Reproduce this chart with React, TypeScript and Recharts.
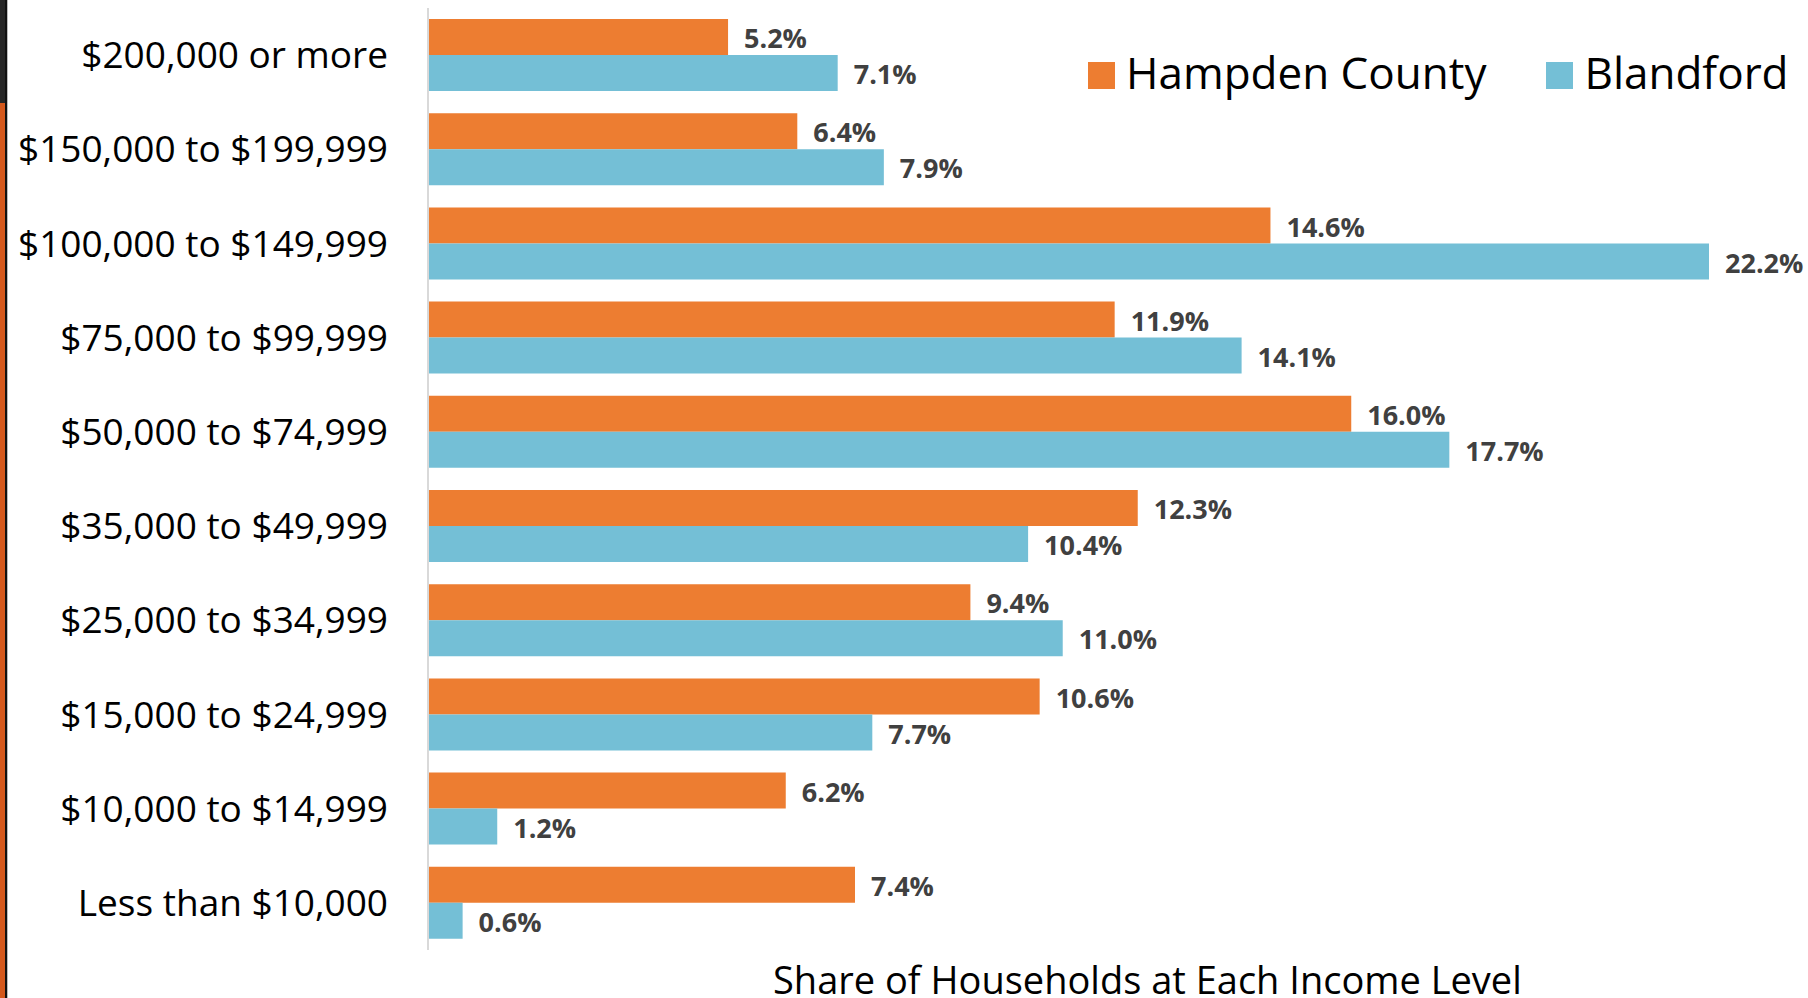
import { BarChart, Bar, XAxis, YAxis, LabelList } from 'recharts'

const incomeLevels = [
  '$200,000 or more',
  '$150,000 to $199,999',
  '$100,000 to $149,999',
  '$75,000 to $99,999',
  '$50,000 to $74,999',
  '$35,000 to $49,999',
  '$25,000 to $34,999',
  '$15,000 to $24,999',
  '$10,000 to $14,999',
  'Less than $10,000',
]
const hampdenCounty = [5.2, 6.4, 14.6, 11.9, 16.0, 12.3, 9.4, 10.6, 6.2, 7.4]
const blandford = [7.1, 7.9, 22.2, 14.1, 17.7, 10.4, 11.0, 7.7, 1.2, 0.6]

const ORANGE = '#ED7D31'
const BLUE = '#74BFD6'
const FONT = '"Open Sans", "Noto Sans", sans-serif'

const data = incomeLevels.map((level, i) => ({
  level,
  hampden: hampdenCounty[i],
  blandford: blandford[i],
}))

// value label to the right of each bar, sitting a little below the bar middle like the original
function ValueLabel(props: any) {
  const { x, y, width, height, value } = props
  return (
    <text
      x={Number(x) + Number(width) + 16}
      y={Number(y) + Number(height) / 2 + 4}
      dominantBaseline="middle"
      fontSize={27}
      fontWeight={700}
      fill="#404040"
      fontFamily={FONT}
    >
      {`${Number(value).toFixed(1)}%`}
    </text>
  )
}

// legend drawn outside the chart so it doesn't eat plot height
function ChartLegend() {
  const items = [
    { name: 'Hampden County', color: ORANGE, gap: 60 },
    { name: 'Blandford', color: BLUE, gap: 0 },
  ]
  return (
    <div
      style={{
        position: 'absolute',
        left: 1088,
        top: 51,
        display: 'flex',
        alignItems: 'flex-start',
        fontFamily: FONT,
        fontSize: 44,
        lineHeight: '43px',
        color: '#000',
      }}
    >
      {items.map((it) => (
        <div key={it.name} style={{ display: 'flex', alignItems: 'flex-start', marginRight: it.gap }}>
          <span style={{ display: 'inline-block', width: 27, height: 27, marginTop: 11, marginRight: 11, background: it.color }} />
          <span style={{ whiteSpace: 'nowrap' }}>{it.name}</span>
        </div>
      ))}
    </div>
  )
}

export default function App() {
  return (
    <div style={{ position: 'absolute', left: 0, top: 0, width: 1808, height: 998, background: '#fff', overflow: 'hidden', fontFamily: FONT }}>
      {/* slide edge on the left */}
      <div style={{ position: 'absolute', left: 0, top: 0, width: 5, height: 103, background: '#262626' }} />
      <div style={{ position: 'absolute', left: 0, top: 103, width: 5, height: 895, background: '#D4581C' }} />
      <div style={{ position: 'absolute', left: 5, top: 0, width: 2, height: 998, background: '#111' }} />
      <div style={{ position: 'absolute', left: 7, top: 0, width: 1, height: 998, background: '#bbb' }} />

      <BarChart
        width={1808}
        height={998}
        data={data}
        layout="vertical"
        margin={{ top: 8, right: 99, bottom: 48, left: 0 }}
        barCategoryGap={11}
        barGap={0}
      >
        <XAxis type="number" hide domain={[0, 22.2]} allowDataOverflow />
        <YAxis
          type="category"
          dataKey="level"
          width={428}
          interval={0}
          tickLine={false}
          tickSize={0}
          tickMargin={40}
          axisLine={{ stroke: '#d9d9d9', strokeWidth: 2 }}
          tick={{ fontSize: 37, fill: '#000', fontFamily: FONT }}
        />
        <Bar dataKey="hampden" name="Hampden County" fill={ORANGE} isAnimationActive={false}>
          <LabelList dataKey="hampden" content={<ValueLabel />} />
        </Bar>
        <Bar dataKey="blandford" name="Blandford" fill={BLUE} isAnimationActive={false}>
          <LabelList dataKey="blandford" content={<ValueLabel />} />
        </Bar>
      </BarChart>

      <ChartLegend />

      <svg style={{ position: 'absolute', left: 0, top: 0, pointerEvents: 'none' }} width={1808} height={998}>
        <text x={773} y={994} fontSize={38} fontFamily={FONT} fill="#000">
          Share of Households at Each Income Level
        </text>
      </svg>
    </div>
  )
}
